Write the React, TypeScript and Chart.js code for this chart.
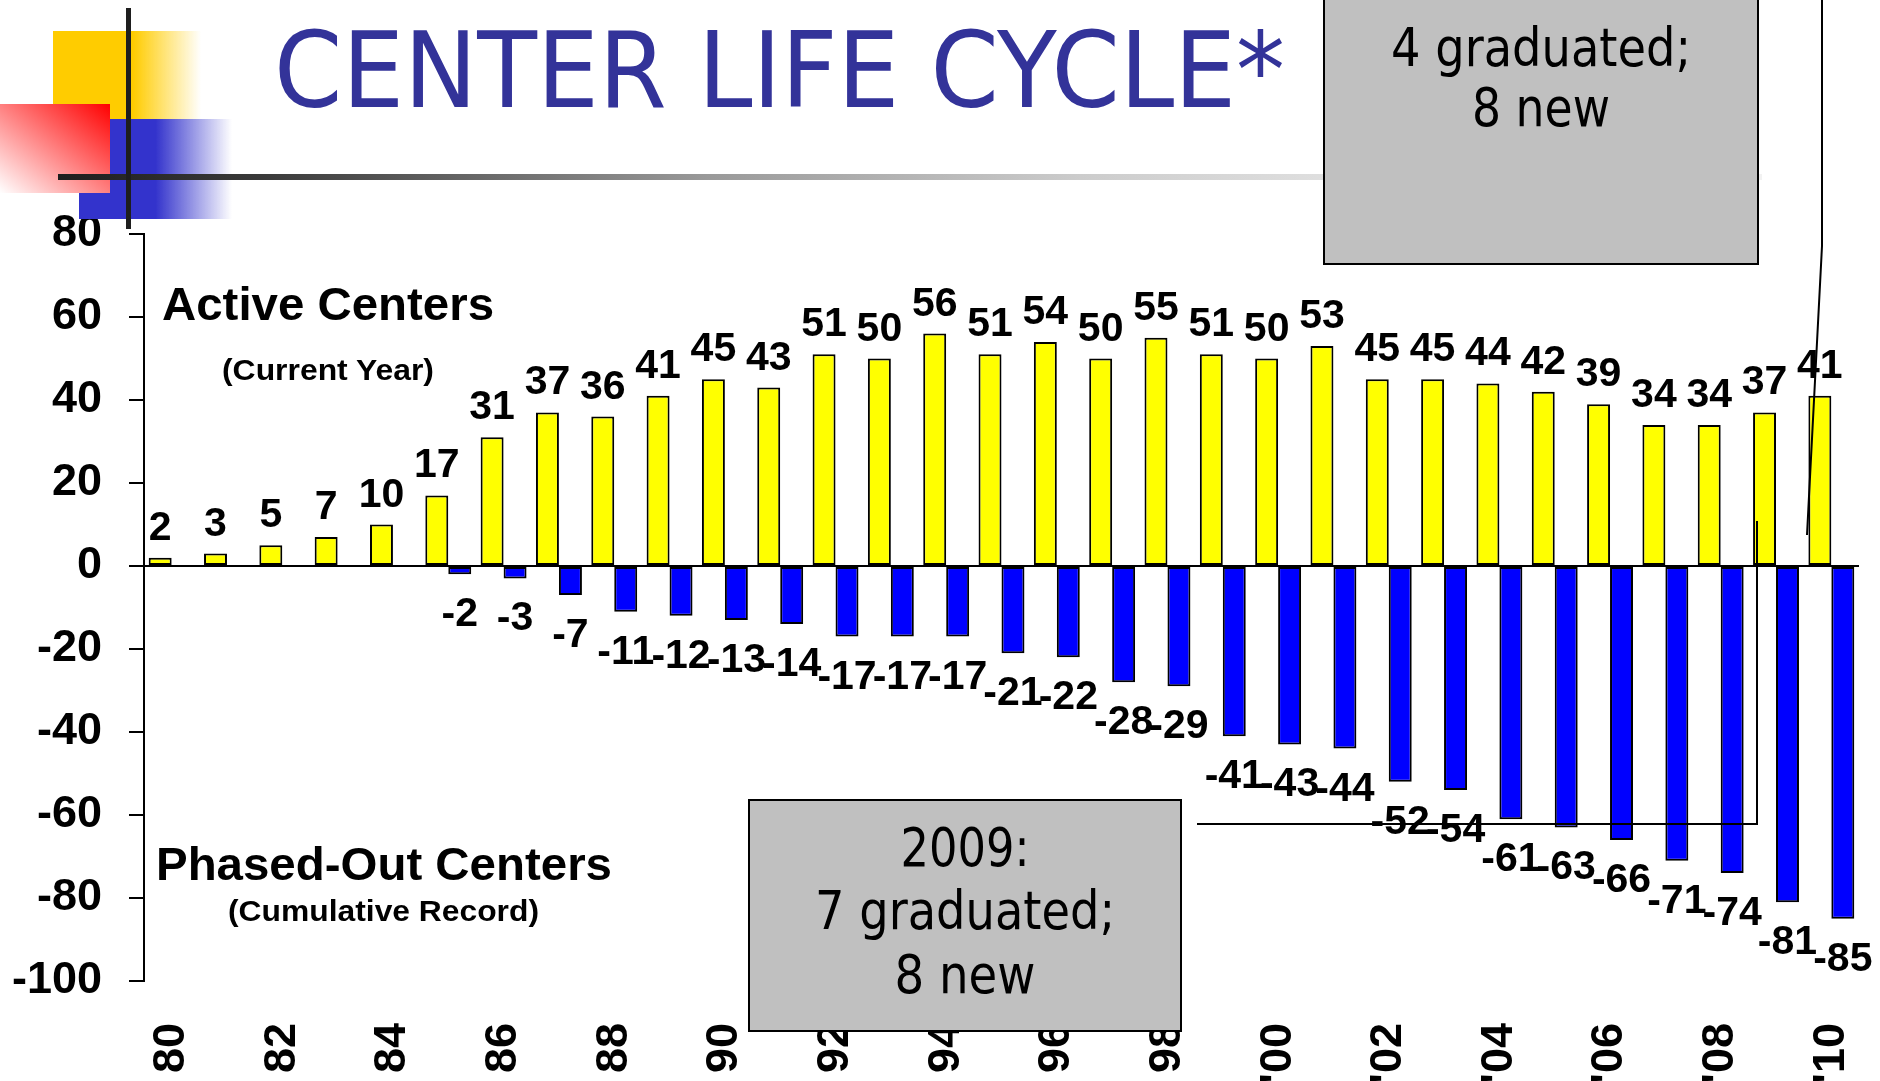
import React, { useEffect, useRef } from "react";
import { Chart, registerables } from "chart.js";

Chart.register(...registerables);

// ---- data ----
const YEARS = [
  "80", "81", "82", "83", "84", "85", "86", "87", "88", "89",
  "90", "91", "92", "93", "94", "95", "96", "97", "98", "99",
  "'00", "'01", "'02", "'03", "'04", "'05", "'06", "'07", "'08", "'09", "'10",
];
const SHOWN_TICKS = ["80", "82", "84", "86", "88", "90", "92", "94", "96", "98", "'00", "'02", "'04", "'06", "'08", "'10"];
const ACTIVE_CENTERS = [2, 3, 5, 7, 10, 17, 31, 37, 36, 41, 45, 43, 51, 50, 56, 51, 54, 50, 55, 51, 50, 53, 45, 45, 44, 42, 39, 34, 34, 37, 41];
const PHASED_OUT = [null, null, null, null, null, -2, -3, -7, -11, -12, -13, -14, -17, -17, -17, -21, -22, -28, -29, -41, -43, -44, -52, -54, -61, -63, -66, -71, -74, -81, -85];
const Y_MIN = -100;
const Y_MAX = 80;
const Y_STEP = 20;

const TITLE = "CENTER LIFE CYCLE*";
const BOX_TOP_LINES = ["4 graduated;", "8 new"];
const BOX_BOTTOM_LINES = ["2009:", "7 graduated;", "8 new"];

const ARIAL = '"Liberation Sans", Arial, Helvetica, sans-serif';
const TAHOMA = '"DejaVu Sans", Verdana, sans-serif';

const valueLabels = {
  id: "valueLabels",
  afterDatasetsDraw(chart: any) {
    const ctx = chart.ctx;
    ctx.save();
    ctx.font = `bold 41px ${ARIAL}`;
    ctx.fillStyle = "#000";
    ctx.textAlign = "center";
    ctx.textBaseline = "alphabetic";
    chart.data.datasets.forEach((ds: any, di: number) => {
      const meta = chart.getDatasetMeta(di);
      meta.data.forEach((el: any, i: number) => {
        const v = ds.data[i];
        if (v == null) return;
        const y = v >= 0 ? el.y - 18 : el.y + 52;
        ctx.fillText(String(v), el.x, y);
      });
    });
    ctx.restore();
  },
};

const zeroLine = {
  id: "zeroLine",
  afterDatasetsDraw(chart: any) {
    const { ctx, chartArea } = chart;
    const y0 = Math.round(chart.scales.y.getPixelForValue(0));
    ctx.save();
    ctx.strokeStyle = "#000";
    ctx.lineWidth = 2;
    ctx.beginPath();
    ctx.moveTo(chartArea.left - 15, y0);
    ctx.lineTo(chartArea.right, y0);
    ctx.stroke();
    ctx.restore();
  },
};

export default function App() {
  const canvasRef = useRef<HTMLCanvasElement>(null);

  useEffect(() => {
    if (!canvasRef.current) return;
    const chart = new Chart(canvasRef.current, {
      type: "bar",
      data: {
        labels: YEARS,
        datasets: [
          {
            label: "Active Centers",
            data: ACTIVE_CENTERS,
            backgroundColor: "#FFFF00",
            borderColor: "#000",
            borderWidth: 2,
            borderSkipped: false,
            categoryPercentage: 0.83,
            barPercentage: 1.0,
          },
          {
            label: "Phased-Out Centers",
            data: PHASED_OUT as any,
            backgroundColor: "#0000FF",
            borderColor: "#000",
            borderWidth: 2,
            borderSkipped: false,
            categoryPercentage: 0.83,
            barPercentage: 1.0,
          },
        ],
      },
      options: {
        responsive: false,
        animation: false,
        devicePixelRatio: 1,
        layout: { padding: { top: 234, right: 21, bottom: 0, left: 0 } },
        plugins: {
          legend: { display: false },
          tooltip: { enabled: false },
          title: { display: false },
        },
        scales: {
          x: {
            grid: { display: false, drawTicks: false },
            border: { display: false },
            ticks: {
              autoSkip: false,
              maxRotation: 90,
              minRotation: 90,
              padding: 42,
              color: "#000",
              font: { family: ARIAL, size: 45, weight: "bold" },
              callback: (_v: any, i: number) => (SHOWN_TICKS.includes(YEARS[i]) ? YEARS[i] : ""),
            },
            afterFit: (scale: any) => {
              scale.height = 100;
              scale.paddingLeft = 0;
              scale.paddingRight = 0;
            },
          },
          y: {
            min: Y_MIN,
            max: Y_MAX,
            grid: {
              drawOnChartArea: false,
              drawTicks: true,
              tickLength: 15,
              color: "#000",
              lineWidth: 2,
            },
            border: { display: true, color: "#000", width: 2 },
            ticks: {
              stepSize: Y_STEP,
              padding: 27,
              color: "#000",
              font: { family: ARIAL, size: 45, weight: "bold" },
            },
            afterFit: (scale: any) => {
              scale.width = 144;
              scale.paddingTop = 0;
              scale.paddingBottom = 0;
            },
          },
        },
      },
      plugins: [zeroLine, valueLabels],
    });
    return () => chart.destroy();
  }, []);

  return (
    <div style={{ position: "fixed", left: 0, top: 0, width: 1880, height: 1081, overflow: "hidden", background: "#fff" }}>
      <canvas ref={canvasRef} width={1880} height={1081} style={{ position: "absolute", left: 0, top: 0, display: "block" }} />
      <svg width={1880} height={1081} style={{ position: "absolute", left: 0, top: 0, pointerEvents: "none" }}>
        <defs>
          <linearGradient id="gYellow" x1="0" y1="0" x2="1" y2="0">
            <stop offset="0" stopColor="#FFCC00" />
            <stop offset="0.54" stopColor="#FFCC00" />
            <stop offset="1" stopColor="#FFCC00" stopOpacity="0" />
          </linearGradient>
          <linearGradient id="gBlue" x1="0" y1="0" x2="1" y2="0">
            <stop offset="0" stopColor="#3333CC" />
            <stop offset="0.5" stopColor="#3333CC" />
            <stop offset="1" stopColor="#3333CC" stopOpacity="0" />
          </linearGradient>
          <linearGradient id="gRed" x1="0" y1="1" x2="1" y2="0">
            <stop offset="0" stopColor="#FFFFFF" />
            <stop offset="1" stopColor="#FF0000" />
          </linearGradient>
          <linearGradient id="gLine" x1="0" y1="0" x2="1" y2="0">
            <stop offset="0" stopColor="#1E1E1E" />
            <stop offset="0.12" stopColor="#3a3a3a" />
            <stop offset="0.38" stopColor="#999999" />
            <stop offset="0.6" stopColor="#cccccc" />
            <stop offset="0.8" stopColor="#e6e6e6" />
            <stop offset="1" stopColor="#f2f2f2" />
          </linearGradient>
        </defs>

        {/* decoration */}
        <rect x={53} y={31} width={148} height={88} fill="url(#gYellow)" />
        <rect x={79} y={119} width={153} height={100} fill="url(#gBlue)" />
        <rect x={0} y={104} width={110} height={89} fill="url(#gRed)" />
        <rect x={58} y={174} width={1704} height={6} fill="url(#gLine)" />
        <rect x={126} y={8} width={5} height={221} fill="#1E1E1E" />

        {/* title */}
        <text x={274} y={107} fontFamily={TAHOMA} fontSize={106} fill="#333399" textLength={1011} lengthAdjust="spacingAndGlyphs">
          {TITLE}
        </text>

        {/* chart annotations */}
        <text x={162} y={320} fontFamily={ARIAL} fontWeight="bold" fontSize={47} fill="#000" textLength={332} lengthAdjust="spacingAndGlyphs">
          Active Centers
        </text>
        <text x={222} y={380} fontFamily={ARIAL} fontWeight="bold" fontSize={29} fill="#000" textLength={212} lengthAdjust="spacingAndGlyphs">
          (Current Year)
        </text>
        <text x={156} y={880} fontFamily={ARIAL} fontWeight="bold" fontSize={46} fill="#000" textLength={456} lengthAdjust="spacingAndGlyphs">
          Phased-Out Centers
        </text>
        <text x={228} y={921} fontFamily={ARIAL} fontWeight="bold" fontSize={29} fill="#000" textLength={311} lengthAdjust="spacingAndGlyphs">
          (Cumulative Record)
        </text>

        {/* callout boxes */}
        <rect x={1324} y={-5} width={434} height={269} fill="#C0C0C0" stroke="#000" strokeWidth={2} />
        <text x={1541} y={66} textAnchor="middle" fontFamily={TAHOMA} fontSize={54} fill="#000" textLength={300} lengthAdjust="spacingAndGlyphs">
          {BOX_TOP_LINES[0]}
        </text>
        <text x={1541} y={126} textAnchor="middle" fontFamily={TAHOMA} fontSize={54} fill="#000" textLength={138} lengthAdjust="spacingAndGlyphs">
          {BOX_TOP_LINES[1]}
        </text>
        <polyline points="1822,-5 1822,246 1807,535" fill="none" stroke="#000" strokeWidth={2} />

        <rect x={749} y={800} width={432} height={231} fill="#C0C0C0" stroke="#000" strokeWidth={2} />
        <text x={965} y={866} textAnchor="middle" fontFamily={TAHOMA} fontSize={54} fill="#000" textLength={129} lengthAdjust="spacingAndGlyphs">
          {BOX_BOTTOM_LINES[0]}
        </text>
        <text x={965} y={929} textAnchor="middle" fontFamily={TAHOMA} fontSize={54} fill="#000" textLength={300} lengthAdjust="spacingAndGlyphs">
          {BOX_BOTTOM_LINES[1]}
        </text>
        <text x={965} y={993} textAnchor="middle" fontFamily={TAHOMA} fontSize={54} fill="#000" textLength={141} lengthAdjust="spacingAndGlyphs">
          {BOX_BOTTOM_LINES[2]}
        </text>
        <polyline points="1197,824 1757,824 1757,521" fill="none" stroke="#000" strokeWidth={2} />
      </svg>
    </div>
  );
}
